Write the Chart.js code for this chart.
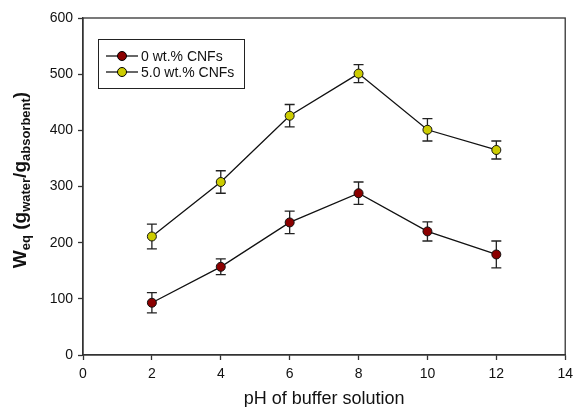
<!DOCTYPE html>
<html>
<head>
<meta charset="utf-8">
<script src="https://cdn.jsdelivr.net/npm/chart.js@4/dist/chart.umd.min.js"></script>
<style>
  html, body { margin: 0; padding: 0; background: #fff; }
  #wrap { width: 579px; height: 407px; position: relative; }
</style>
</head>
<body>
<div id="wrap"><canvas id="c" width="579" height="407"></canvas></div>
<script>
// ---- data ----
const phValues = [2, 4, 6, 8, 10, 12];
const wCnf0 = [93, 157, 236, 288, 220, 179];
const errCnf0 = [18, 14, 20, 20, 17, 24];
const wCnf5 = [211, 308, 426, 501, 401, 365];
const errCnf5 = [22, 20, 20, 16, 20, 16];
const seriesLabels = ['0 wt.% CNFs', '5.0 wt.% CNFs'];
const xTicks = [0, 2, 4, 6, 8, 10, 12, 14];
const yTicks = [0, 100, 200, 300, 400, 500, 600];

const FONT = '"Liberation Sans", Arial, sans-serif';

function toPoints(xs, ys) { return xs.map((x, i) => ({ x: x, y: ys[i] })); }

const errorBars = {
  id: 'errorBars',
  beforeDatasetsDraw(chart) {
    const ctx = chart.ctx;
    const xs = chart.scales.x, ys = chart.scales.y;
    const errs = [errCnf0, errCnf5];
    ctx.save();
    ctx.strokeStyle = '#222';
    ctx.lineWidth = 1.3;
    chart.data.datasets.forEach((ds, di) => {
      ds.data.forEach((p, i) => {
        const e = errs[di][i];
        const px = xs.getPixelForValue(p.x);
        const top = ys.getPixelForValue(p.y + e);
        const bot = ys.getPixelForValue(p.y - e);
        const cap = 5;
        ctx.beginPath();
        ctx.moveTo(px, top); ctx.lineTo(px, bot);
        ctx.moveTo(px - cap, top); ctx.lineTo(px + cap, top);
        ctx.moveTo(px - cap, bot); ctx.lineTo(px + cap, bot);
        ctx.stroke();
      });
    });
    ctx.restore();
  }
};

const frameAndLabels = {
  id: 'frameAndLabels',
  afterDraw(chart) {
    const ctx = chart.ctx;
    const a = chart.chartArea;
    ctx.save();
    // frame
    ctx.strokeStyle = '#333';
    ctx.lineWidth = 1.3;
    ctx.strokeRect(a.left, a.top, a.right - a.left, a.bottom - a.top);

    // legend
    const lx = 98, ly = 39, lw = 146, lh = 49;
    ctx.lineWidth = 1;
    ctx.strokeStyle = '#222';
    ctx.strokeRect(lx + 0.5, ly + 0.5, lw, lh);
    const rows = [56, 72];
    chart.data.datasets.forEach((ds, i) => {
      const y = rows[i];
      ctx.strokeStyle = '#000';
      ctx.lineWidth = 1.2;
      ctx.beginPath(); ctx.moveTo(106, y); ctx.lineTo(138, y); ctx.stroke();
      ctx.lineWidth = 1;
      ctx.beginPath(); ctx.arc(122, y, 4.5, 0, Math.PI * 2);
      ctx.fillStyle = ds.pointBackgroundColor; ctx.fill(); ctx.stroke();
      ctx.fillStyle = '#111';
      ctx.font = '14px ' + FONT;
      ctx.textBaseline = 'middle';
      ctx.textAlign = 'left';
      ctx.fillText(ds.label, 141, y + 1);
    });

    // y-axis title with subscripts
    const parts = [
      { t: 'W', s: 19, sub: false },
      { t: 'eq', s: 13, sub: true },
      { t: ' (g', s: 19, sub: false },
      { t: 'water', s: 13, sub: true },
      { t: '/g', s: 19, sub: false },
      { t: 'absorbent', s: 13, sub: true },
      { t: ')', s: 19, sub: false }
    ];
    let total = 0;
    parts.forEach(p => { ctx.font = 'bold ' + p.s + 'px ' + FONT; p.w = ctx.measureText(p.t).width; total += p.w; });
    ctx.translate(26, 180);
    ctx.rotate(-Math.PI / 2);
    ctx.fillStyle = '#111';
    ctx.textBaseline = 'alphabetic';
    ctx.textAlign = 'left';
    let x = -total / 2;
    parts.forEach(p => {
      ctx.font = 'bold ' + p.s + 'px ' + FONT;
      ctx.fillText(p.t, x, p.sub ? 4 : 0);
      x += p.w;
    });
    ctx.restore();
  }
};

new Chart(document.getElementById('c'), {
  type: 'scatter',
  data: {
    datasets: [
      {
        label: seriesLabels[0],
        data: toPoints(phValues, wCnf0),
        showLine: true,
        borderColor: '#111',
        borderWidth: 1.3,
        pointRadius: 4.5,
        pointHoverRadius: 4.5,
        pointBorderWidth: 1,
        pointBorderColor: '#111',
        pointBackgroundColor: '#8b0000'
      },
      {
        label: seriesLabels[1],
        data: toPoints(phValues, wCnf5),
        showLine: true,
        borderColor: '#111',
        borderWidth: 1.3,
        pointRadius: 4.5,
        pointHoverRadius: 4.5,
        pointBorderWidth: 1,
        pointBorderColor: '#111',
        pointBackgroundColor: '#cccc00'
      }
    ]
  },
  options: {
    responsive: false,
    animation: false,
    events: [],
    layout: { padding: { left: 0, top: 18, right: 13, bottom: 0 } },
    plugins: { legend: { display: false }, tooltip: { enabled: false } },
    scales: {
      x: {
        type: 'linear',
        min: 0, max: 14,
        afterBuildTicks(s) { s.ticks = xTicks.map(v => ({ value: v })); },
        afterFit(s) { s.height = 52; },
        grid: { display: true, drawOnChartArea: false, drawTicks: true, tickLength: 5, tickColor: '#333', tickWidth: 1.3 },
        border: { display: true, color: '#333', width: 1.3 },
        ticks: { color: '#111', font: { family: FONT, size: 14 }, padding: 6 },
        title: { display: true, text: 'pH of buffer solution', color: '#111', font: { family: FONT, size: 18 }, padding: { top: 0, bottom: -3 } }
      },
      y: {
        type: 'linear',
        min: 0, max: 600,
        afterBuildTicks(s) { s.ticks = yTicks.map(v => ({ value: v })); },
        afterFit(s) { s.width = 83; },
        grid: { display: true, drawOnChartArea: false, drawTicks: true, tickLength: 5, tickColor: '#333', tickWidth: 1.3 },
        border: { display: true, color: '#333', width: 1.3 },
        ticks: { color: '#111', font: { family: FONT, size: 14 }, padding: 5 }
      }
    }
  },
  plugins: [errorBars, frameAndLabels]
});
</script>
</body>
</html>
